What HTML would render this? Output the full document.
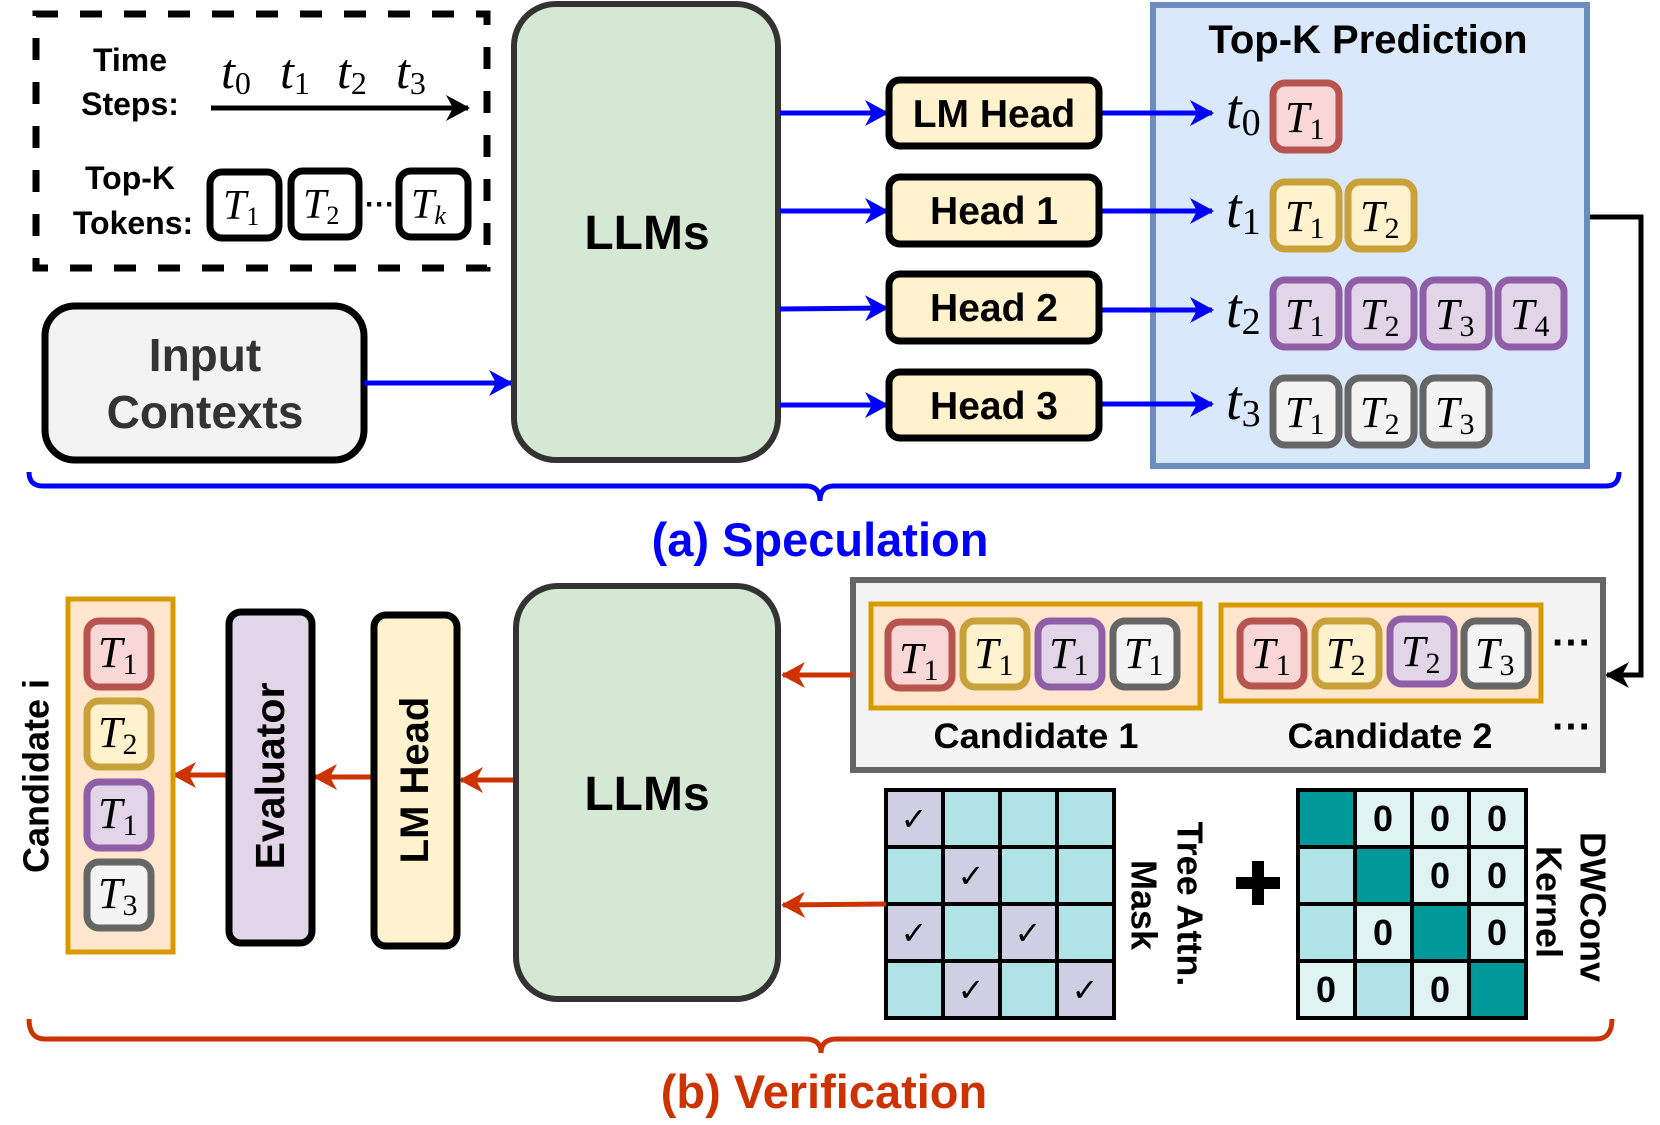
<!DOCTYPE html>
<html><head><meta charset="utf-8"><style>
html,body{margin:0;padding:0;background:#fff;}
svg{display:block;}
.b{font-family:"Liberation Sans",Arial,sans-serif;font-weight:bold;}
.m{font-family:"Liberation Serif","DejaVu Serif",serif;font-style:italic;}
.s{font-family:"Liberation Serif","DejaVu Serif",serif;font-style:normal;}
</style></head><body>
<svg width="1660" height="1125" viewBox="0 0 1660 1125" xmlns="http://www.w3.org/2000/svg">
<defs>
<marker id="ab" viewBox="0 0 24 26" refX="22" refY="13" markerWidth="24" markerHeight="26" markerUnits="userSpaceOnUse" orient="auto"><path d="M0,0 L24,13 L0,26 L7,13 Z" fill="#0000ff"/></marker>
<marker id="ar" viewBox="0 0 24 26" refX="22" refY="13" markerWidth="24" markerHeight="26" markerUnits="userSpaceOnUse" orient="auto"><path d="M0,0 L24,13 L0,26 L7,13 Z" fill="#cc3300"/></marker>
<marker id="ak" viewBox="0 0 24 26" refX="22" refY="13" markerWidth="24" markerHeight="26" markerUnits="userSpaceOnUse" orient="auto"><path d="M0,0 L24,13 L0,26 L7,13 Z" fill="#000"/></marker>
</defs>

<!-- Legend dashed box -->
<rect x="36" y="14" width="451" height="254" fill="none" stroke="#000" stroke-width="7" stroke-dasharray="22,22"/>
<text class="b" x="130" y="71" font-size="32" text-anchor="middle">Time</text>
<text class="b" x="130" y="115" font-size="32" text-anchor="middle">Steps:</text>
<g class="m" font-size="50">
<text x="221" y="88">t<tspan class="s" font-size="32" dy="6">0</tspan></text>
<text x="280" y="88">t<tspan class="s" font-size="32" dy="6">1</tspan></text>
<text x="337" y="88">t<tspan class="s" font-size="32" dy="6">2</tspan></text>
<text x="396" y="88">t<tspan class="s" font-size="32" dy="6">3</tspan></text>
</g>
<line x1="211" y1="108" x2="468" y2="108" stroke="#000" stroke-width="5" marker-end="url(#ak)"/>
<text class="b" x="130" y="189" font-size="32" text-anchor="middle">Top-K</text>
<text class="b" x="133" y="234" font-size="32" text-anchor="middle">Tokens:</text>
<g fill="#fff" stroke="#000" stroke-width="7">
<rect x="210" y="172" width="69" height="66" rx="12"/>
<rect x="291" y="171" width="68" height="66" rx="12"/>
<rect x="399" y="171" width="69" height="66" rx="12"/>
</g>
<g class="m" font-size="42">
<text x="223" y="219">T<tspan class="s" font-size="26" dy="6">1</tspan></text>
<text x="303" y="218">T<tspan class="s" font-size="26" dy="6">2</tspan></text>
<text x="411" y="218">T<tspan font-size="26" dy="6">k</tspan></text>
</g>
<text class="b" x="380" y="214" font-size="30" text-anchor="middle">···</text>

<!-- Input Contexts -->
<rect x="45" y="306" width="319" height="154" rx="30" fill="#f3f3f3" stroke="#000" stroke-width="7"/>
<text class="b" x="205" y="371" font-size="46" fill="#333" text-anchor="middle">Input</text>
<text class="b" x="205" y="428" font-size="46" fill="#333" text-anchor="middle">Contexts</text>
<line x1="364" y1="383" x2="511" y2="383" stroke="#0000ff" stroke-width="5" marker-end="url(#ab)"/>

<!-- LLMs top -->
<rect x="514" y="4" width="264" height="456" rx="42" fill="#d5e8d4" stroke="#333" stroke-width="6"/>
<text class="b" x="647" y="249" font-size="48" text-anchor="middle">LLMs</text>

<!-- Top-K Prediction box -->
<rect x="1153" y="5" width="434" height="461" fill="#dae8fc" stroke="#6c8ebf" stroke-width="6"/>
<text class="b" x="1368" y="53" font-size="40" text-anchor="middle">Top-K Prediction</text>

<!-- heads -->
<g stroke="#0000ff" stroke-width="5">
<line x1="780" y1="113" x2="887" y2="113" marker-end="url(#ab)"/>
<line x1="780" y1="211" x2="887" y2="211" marker-end="url(#ab)"/>
<line x1="780" y1="309" x2="887" y2="308" marker-end="url(#ab)"/>
<line x1="780" y1="405" x2="887" y2="405" marker-end="url(#ab)"/>
<line x1="1100" y1="113" x2="1212" y2="113" marker-end="url(#ab)"/>
<line x1="1100" y1="211" x2="1212" y2="211" marker-end="url(#ab)"/>
<line x1="1100" y1="310" x2="1212" y2="310" marker-end="url(#ab)"/>
<line x1="1100" y1="404" x2="1212" y2="404" marker-end="url(#ab)"/>
</g>
<g fill="#fff2cc" stroke="#000" stroke-width="7">
<rect x="889" y="80" width="210" height="66" rx="11"/>
<rect x="889" y="177" width="210" height="67" rx="11"/>
<rect x="889" y="274" width="210" height="67" rx="11"/>
<rect x="889" y="372" width="210" height="66" rx="11"/>
</g>
<g class="b" font-size="39" text-anchor="middle">
<text x="994" y="127">LM Head</text>
<text x="994" y="224">Head 1</text>
<text x="994" y="321">Head 2</text>
<text x="994" y="419">Head 3</text>
</g>

<g class="m" font-size="56">
<text x="1226" y="128">t<tspan class="s" font-size="38" dy="7">0</tspan></text>
<text x="1226" y="227">t<tspan class="s" font-size="38" dy="7">1</tspan></text>
<text x="1226" y="327">t<tspan class="s" font-size="38" dy="7">2</tspan></text>
<text x="1226" y="419">t<tspan class="s" font-size="38" dy="7">3</tspan></text>
</g>
<g stroke-width="7">
<rect x="1273" y="83" width="66" height="67" rx="12" fill="#f8d7d6" stroke="#b85450"/>
<rect x="1273" y="182" width="66" height="67" rx="12" fill="#fff2cc" stroke="#c9a13a"/>
<rect x="1348" y="182" width="66" height="67" rx="12" fill="#fff2cc" stroke="#c9a13a"/>
<rect x="1273" y="280" width="66" height="67" rx="12" fill="#e1d5e7" stroke="#8f5ea6"/>
<rect x="1348" y="280" width="66" height="67" rx="12" fill="#e1d5e7" stroke="#8f5ea6"/>
<rect x="1423" y="280" width="66" height="67" rx="12" fill="#e1d5e7" stroke="#8f5ea6"/>
<rect x="1498" y="280" width="66" height="67" rx="12" fill="#e1d5e7" stroke="#8f5ea6"/>
<rect x="1273" y="378" width="66" height="67" rx="12" fill="#f4f4f4" stroke="#666"/>
<rect x="1348" y="378" width="66" height="67" rx="12" fill="#f4f4f4" stroke="#666"/>
<rect x="1423" y="378" width="66" height="67" rx="12" fill="#f4f4f4" stroke="#666"/>
</g>
<g class="m" font-size="44">
<text x="1285" y="132">T<tspan class="s" font-size="30" dy="7">1</tspan></text>
<text x="1285" y="231">T<tspan class="s" font-size="30" dy="7">1</tspan></text>
<text x="1360" y="231">T<tspan class="s" font-size="30" dy="7">2</tspan></text>
<text x="1285" y="329">T<tspan class="s" font-size="30" dy="7">1</tspan></text>
<text x="1360" y="329">T<tspan class="s" font-size="30" dy="7">2</tspan></text>
<text x="1435" y="329">T<tspan class="s" font-size="30" dy="7">3</tspan></text>
<text x="1510" y="329">T<tspan class="s" font-size="30" dy="7">4</tspan></text>
<text x="1285" y="427">T<tspan class="s" font-size="30" dy="7">1</tspan></text>
<text x="1360" y="427">T<tspan class="s" font-size="30" dy="7">2</tspan></text>
<text x="1435" y="427">T<tspan class="s" font-size="30" dy="7">3</tspan></text>
</g>
<polyline points="1590,217 1641,217 1641,675 1607,675" fill="none" stroke="#000" stroke-width="5" marker-end="url(#ak)"/>

<!-- blue brace -->
<path d="M29,472 Q29,486 43,486 L806,486 Q820,486 820,501 Q820,486 834,486 L1606,486 Q1619,486 1619,472" fill="none" stroke="#0000ff" stroke-width="5"/>
<text class="b" x="820" y="556" font-size="47" fill="#0000ff" text-anchor="middle">(a) Speculation</text>

<!-- candidates container -->
<rect x="853" y="580" width="750" height="190" fill="#f4f4f4" stroke="#666" stroke-width="6"/>
<rect x="871" y="604" width="329" height="104" fill="#ffe6cc" stroke="#d79b00" stroke-width="5"/>
<rect x="1221" y="605" width="320" height="96" fill="#ffe6cc" stroke="#d79b00" stroke-width="5"/>
<g stroke-width="7">
<rect x="888" y="622" width="64" height="66" rx="12" fill="#f8d7d6" stroke="#b85450"/>
<rect x="963" y="621" width="64" height="66" rx="12" fill="#fff2cc" stroke="#c9a13a"/>
<rect x="1038" y="621" width="64" height="66" rx="12" fill="#e1d5e7" stroke="#8f5ea6"/>
<rect x="1113" y="621" width="64" height="66" rx="12" fill="#f4f4f4" stroke="#666"/>
<rect x="1240" y="621" width="64" height="65" rx="12" fill="#f8d7d6" stroke="#b85450"/>
<rect x="1315" y="621" width="64" height="65" rx="12" fill="#fff2cc" stroke="#c9a13a"/>
<rect x="1390" y="619" width="64" height="65" rx="12" fill="#e1d5e7" stroke="#8f5ea6"/>
<rect x="1464" y="621" width="64" height="65" rx="12" fill="#f4f4f4" stroke="#666"/>
</g>
<g class="m" font-size="44">
<text x="899" y="673">T<tspan class="s" font-size="30" dy="7">1</tspan></text>
<text x="974" y="668">T<tspan class="s" font-size="30" dy="7">1</tspan></text>
<text x="1049" y="668">T<tspan class="s" font-size="30" dy="7">1</tspan></text>
<text x="1124" y="668">T<tspan class="s" font-size="30" dy="7">1</tspan></text>
<text x="1251" y="668">T<tspan class="s" font-size="30" dy="7">1</tspan></text>
<text x="1326" y="668">T<tspan class="s" font-size="30" dy="7">2</tspan></text>
<text x="1401" y="666">T<tspan class="s" font-size="30" dy="7">2</tspan></text>
<text x="1475" y="668">T<tspan class="s" font-size="30" dy="7">3</tspan></text>
</g>
<text class="b" x="1572" y="656" font-size="40" text-anchor="middle">···</text>
<text class="b" x="1572" y="740" font-size="40" text-anchor="middle">···</text>
<text class="b" x="1036" y="748" font-size="35" text-anchor="middle" textLength="205" lengthAdjust="spacingAndGlyphs">Candidate 1</text>
<text class="b" x="1390" y="748" font-size="35" text-anchor="middle" textLength="205" lengthAdjust="spacingAndGlyphs">Candidate 2</text>

<!-- Tree attn mask grid -->
<g stroke="#000" stroke-width="4">
<rect x="886" y="790" width="57" height="57" fill="#d0cee2"/><rect x="943" y="790" width="57" height="57" fill="#b0e3e6"/><rect x="1000" y="790" width="57" height="57" fill="#b0e3e6"/><rect x="1057" y="790" width="57" height="57" fill="#b0e3e6"/>
<rect x="886" y="847" width="57" height="57" fill="#b0e3e6"/><rect x="943" y="847" width="57" height="57" fill="#d0cee2"/><rect x="1000" y="847" width="57" height="57" fill="#b0e3e6"/><rect x="1057" y="847" width="57" height="57" fill="#b0e3e6"/>
<rect x="886" y="904" width="57" height="57" fill="#d0cee2"/><rect x="943" y="904" width="57" height="57" fill="#b0e3e6"/><rect x="1000" y="904" width="57" height="57" fill="#d0cee2"/><rect x="1057" y="904" width="57" height="57" fill="#b0e3e6"/>
<rect x="886" y="961" width="57" height="57" fill="#b0e3e6"/><rect x="943" y="961" width="57" height="57" fill="#d0cee2"/><rect x="1000" y="961" width="57" height="57" fill="#b0e3e6"/><rect x="1057" y="961" width="57" height="57" fill="#d0cee2"/>
</g>
<g font-family="DejaVu Sans,sans-serif" font-size="32" font-weight="bold" text-anchor="middle">
<text x="914" y="830">✓</text><text x="971" y="887">✓</text><text x="914" y="944">✓</text><text x="1028" y="944">✓</text><text x="971" y="1001">✓</text><text x="1085" y="1001">✓</text>
</g>
<g class="b" font-size="36" text-anchor="middle" dominant-baseline="central">
<text transform="translate(1190,904) rotate(90)">Tree Attn.</text>
<text transform="translate(1144,905) rotate(90)">Mask</text>
<text transform="translate(1593,907) rotate(90)">DWConv</text>
<text transform="translate(1549,902) rotate(90)">Kernel</text>
</g>
<rect x="1236" y="877" width="44" height="12" fill="#000"/>
<rect x="1252" y="861" width="12" height="44" fill="#000"/>

<!-- DWConv grid -->
<g stroke="#000" stroke-width="4">
<rect x="1298" y="790" width="57" height="57" fill="#009999"/><rect x="1355" y="790" width="57" height="57" fill="#e0f3f3"/><rect x="1412" y="790" width="57" height="57" fill="#e0f3f3"/><rect x="1469" y="790" width="57" height="57" fill="#e0f3f3"/>
<rect x="1298" y="847" width="57" height="57" fill="#b0e3e6"/><rect x="1355" y="847" width="57" height="57" fill="#009999"/><rect x="1412" y="847" width="57" height="57" fill="#e0f3f3"/><rect x="1469" y="847" width="57" height="57" fill="#e0f3f3"/>
<rect x="1298" y="904" width="57" height="57" fill="#b0e3e6"/><rect x="1355" y="904" width="57" height="57" fill="#e0f3f3"/><rect x="1412" y="904" width="57" height="57" fill="#009999"/><rect x="1469" y="904" width="57" height="57" fill="#e0f3f3"/>
<rect x="1298" y="961" width="57" height="57" fill="#e0f3f3"/><rect x="1355" y="961" width="57" height="57" fill="#b0e3e6"/><rect x="1412" y="961" width="57" height="57" fill="#e0f3f3"/><rect x="1469" y="961" width="57" height="57" fill="#009999"/>
</g>
<g class="b" font-size="36" text-anchor="middle">
<text x="1383" y="831">0</text><text x="1440" y="831">0</text><text x="1497" y="831">0</text>
<text x="1440" y="888">0</text><text x="1497" y="888">0</text>
<text x="1383" y="945">0</text><text x="1497" y="945">0</text>
<text x="1326" y="1002">0</text><text x="1440" y="1002">0</text>
</g>

<!-- red arrows -->
<g stroke="#cc3300" stroke-width="5">
<line x1="853" y1="675" x2="783" y2="675" marker-end="url(#ar)"/>
<line x1="886" y1="904" x2="783" y2="905" marker-end="url(#ar)"/>
<line x1="514" y1="780" x2="461" y2="780" marker-end="url(#ar)"/>
<line x1="371" y1="777" x2="315" y2="777" marker-end="url(#ar)"/>
<line x1="226" y1="775" x2="174" y2="775" marker-end="url(#ar)"/>
</g>

<!-- LLMs bottom -->
<rect x="516" y="586" width="262" height="413" rx="42" fill="#d5e8d4" stroke="#333" stroke-width="6"/>
<text class="b" x="647" y="810" font-size="48" text-anchor="middle">LLMs</text>

<!-- LM Head vertical -->
<rect x="374" y="615" width="83" height="331" rx="12" fill="#fff2cc" stroke="#000" stroke-width="7"/>
<text class="b" font-size="40" text-anchor="middle" dominant-baseline="central" transform="translate(415,780) rotate(-90)">LM Head</text>
<!-- Evaluator -->
<rect x="229" y="612" width="83" height="331" rx="12" fill="#e1d5e7" stroke="#000" stroke-width="7"/>
<text class="b" font-size="41" text-anchor="middle" dominant-baseline="central" transform="translate(270,776) rotate(-90)">Evaluator</text>

<!-- Candidate i -->
<rect x="68" y="599" width="105" height="353" fill="#ffe6cc" stroke="#d79b00" stroke-width="5"/>
<g stroke-width="7">
<rect x="87" y="621" width="64" height="66" rx="12" fill="#f8d7d6" stroke="#b85450"/>
<rect x="87" y="701" width="64" height="66" rx="12" fill="#fff2cc" stroke="#c9a13a"/>
<rect x="87" y="782" width="64" height="66" rx="12" fill="#e1d5e7" stroke="#8f5ea6"/>
<rect x="87" y="862" width="64" height="66" rx="12" fill="#f4f4f4" stroke="#666"/>
</g>
<g class="m" font-size="44">
<text x="98" y="667">T<tspan class="s" font-size="30" dy="7">1</tspan></text>
<text x="98" y="747">T<tspan class="s" font-size="30" dy="7">2</tspan></text>
<text x="98" y="828">T<tspan class="s" font-size="30" dy="7">1</tspan></text>
<text x="98" y="908">T<tspan class="s" font-size="30" dy="7">3</tspan></text>
</g>
<text class="b" font-size="36" text-anchor="middle" dominant-baseline="central" transform="translate(36,776) rotate(-90)">Candidate i</text>

<!-- red brace -->
<path d="M29,1019 Q29,1039 45,1039 L805,1039 Q821,1039 821,1053 Q821,1039 837,1039 L1596,1039 Q1612,1039 1612,1019" fill="none" stroke="#cc3300" stroke-width="5"/>
<text class="b" x="824" y="1108" font-size="47" fill="#cc3300" text-anchor="middle">(b) Verification</text>
</svg>
</body></html>
